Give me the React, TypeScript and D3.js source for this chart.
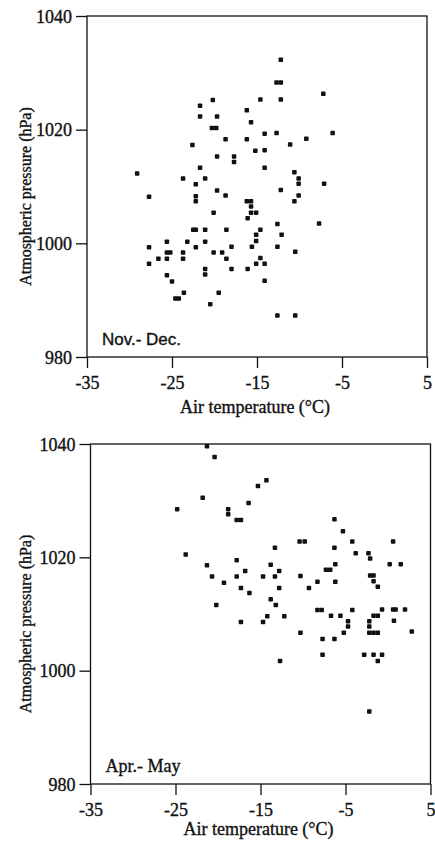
import React, { useEffect, useRef } from "react";
import { select, scaleLinear, axisLeft, axisBottom } from "d3";

// Nov.- Dec. : [air temperature (°C), atmospheric pressure (hPa)]
const novDec: [number, number][] = [
  [-29.1, 1012.3], [-27.7, 1008.2], [-21.7, 1024.2], [-20.2, 1025.2], [-16.2, 1023.4],
  [-21.7, 1022.3], [-19.7, 1022.3], [-15.7, 1021.3], [-20.3, 1020.3], [-19.8, 1020.3],
  [-22.6, 1017.3], [-18.7, 1018.3], [-16.2, 1018.3], [-15.2, 1016.3], [-19.7, 1015.3],
  [-17.7, 1015.3], [-17.7, 1014.3], [-21.7, 1013.3], [-23.7, 1011.4], [-21.1, 1011.4],
  [-22.2, 1010.4], [-22.2, 1008.3], [-19.7, 1009.3], [-18.7, 1008.4], [-12.2, 1032.3],
  [-12.7, 1028.3], [-12.2, 1028.3], [-14.6, 1025.3], [-12.2, 1025.3], [-7.2, 1026.3],
  [-14.1, 1019.3], [-12.7, 1019.4], [-9.2, 1018.4], [-6.1, 1019.4], [-11.1, 1017.4],
  [-14.1, 1016.4], [-14.1, 1013.3], [-10.6, 1012.5], [-10.1, 1011.4], [-10.1, 1010.5],
  [-7.1, 1010.5], [-12.2, 1009.4], [-10.1, 1008.4], [-10.6, 1007.4], [-16.2, 1007.4],
  [-15.7, 1007.4], [-15.7, 1006.5], [-15.7, 1005.4], [-15.1, 1005.4], [-16.1, 1004.4],
  [-12.6, 1003.4], [-7.7, 1003.5], [-14.6, 1002.4], [-15.1, 1001.5], [-15.1, 1000.4],
  [-12.1, 1001.5], [-18.0, 999.4], [-15.6, 999.4], [-12.6, 999.4], [-10.5, 998.5],
  [-14.6, 997.4], [-15.1, 996.4], [-14.1, 996.4], [-18.0, 995.5], [-16.1, 995.5],
  [-14.1, 993.4], [-12.6, 987.3], [-10.5, 987.3], [-22.2, 1007.4], [-20.1, 1005.4],
  [-22.5, 1002.4], [-22.2, 1002.4], [-21.1, 1002.4], [-18.6, 1002.4], [-25.6, 1000.3],
  [-23.2, 1000.3], [-21.1, 1000.3], [-27.7, 999.3], [-22.2, 999.3], [-25.6, 998.4],
  [-25.2, 998.4], [-23.7, 998.4], [-20.1, 998.4], [-19.1, 998.4], [-26.6, 997.3],
  [-25.6, 997.3], [-23.7, 997.3], [-18.6, 997.3], [-27.7, 996.4], [-21.1, 995.5],
  [-21.1, 994.5], [-25.6, 994.4], [-25.0, 993.3], [-23.6, 991.3], [-24.6, 990.3],
  [-24.2, 990.3], [-19.5, 991.3], [-20.5, 989.3],
];

// Apr.- May
const aprMay: [number, number][] = [
  [-21.3, 1039.6], [-20.4, 1037.7], [-15.3, 1032.6], [-14.3, 1033.6], [-21.8, 1030.5],
  [-16.4, 1029.6], [-24.8, 1028.5], [-18.8, 1028.5], [-18.8, 1027.6], [-17.8, 1026.6],
  [-17.3, 1026.6], [-23.8, 1020.5], [-17.8, 1019.5], [-21.3, 1018.6], [-16.8, 1017.6],
  [-20.7, 1016.6], [-17.8, 1016.6], [-19.3, 1015.5], [-17.3, 1014.6], [-16.3, 1013.7],
  [-20.2, 1011.6], [-17.3, 1008.6], [-6.3, 1026.7], [-5.3, 1024.6], [-10.4, 1022.8],
  [-9.8, 1022.8], [-4.2, 1022.8], [0.6, 1022.8], [-13.3, 1021.7], [-6.3, 1021.7],
  [-3.8, 1020.7], [-2.3, 1020.7], [-2.1, 1019.8], [-13.8, 1018.7], [-6.2, 1018.8],
  [0.2, 1018.8], [1.5, 1018.8], [-12.8, 1017.6], [-7.3, 1017.8], [-6.8, 1017.8],
  [-14.7, 1016.6], [-13.3, 1016.6], [-10.3, 1016.7], [-2.1, 1016.8], [-1.7, 1016.8],
  [-1.7, 1015.8], [-8.3, 1015.7], [-6.2, 1015.7], [-1.2, 1014.8], [-12.8, 1014.6],
  [-9.3, 1014.6], [-13.8, 1012.6], [-13.2, 1011.6], [-8.3, 1010.7], [-7.8, 1010.7],
  [-4.2, 1010.7], [-0.7, 1010.8], [0.6, 1010.8], [0.9, 1010.8], [2.0, 1010.8],
  [-6.7, 1009.7], [-5.6, 1009.7], [-1.7, 1009.7], [-1.2, 1009.7], [-14.2, 1009.6],
  [-12.2, 1009.6], [-14.7, 1008.6], [-4.7, 1008.7], [-2.2, 1008.7], [0.7, 1008.8],
  [-4.7, 1007.8], [-2.2, 1007.8], [-10.3, 1006.7], [-5.2, 1006.7], [-2.2, 1006.7],
  [-1.7, 1006.7], [-1.2, 1006.7], [2.8, 1006.9], [-7.7, 1005.6], [-6.3, 1005.6],
  [-12.7, 1001.7], [-7.7, 1002.8], [-2.8, 1002.8], [-1.7, 1002.8], [-0.7, 1002.8],
  [-1.2, 1001.7], [-2.2, 992.8],
];

const tempTicks = [-35, -25, -15, -5, 5];
const pressureTicks = [980, 1000, 1020, 1040];

const SERIF = "'Liberation Serif', 'Times New Roman', serif";
const SANS = "'Liberation Sans', Arial, sans-serif";
const INK = "#111";

type PanelBox = { left: number; right: number; top: number; bottom: number; titleGap: number };

// scanned print looks heavy, so give the type a thin outline
const heavy = (sel: any) => sel.attr("fill", INK).attr("stroke", INK).attr("stroke-width", 0.35);

function drawPanel(
  g: any,
  box: PanelBox,
  points: [number, number][],
  label: string,
  labelFont: string
) {
  const x = scaleLinear().domain([-35, 5]).range([box.left, box.right]);
  const y = scaleLinear().domain([980, 1040]).range([box.bottom, box.top]);

  // frame
  g.append("rect")
    .attr("x", box.left)
    .attr("y", box.top)
    .attr("width", box.right - box.left)
    .attr("height", box.bottom - box.top)
    .attr("fill", "none")
    .attr("stroke", INK)
    .attr("stroke-width", 1.3);

  const yAxis = axisLeft(y)
    .tickValues(pressureTicks)
    .tickFormat((d: any) => String(d))
    .tickSize(11)
    .tickSizeOuter(0)
    .tickPadding(4);
  const ya = g.append("g").attr("transform", `translate(${box.left},0)`).call(yAxis);
  ya.select(".domain").remove();
  ya.selectAll("line").attr("stroke", INK).attr("stroke-width", 1.3);
  ya.selectAll("text")
    .attr("font-family", SERIF)
    .attr("font-size", 18)
    .attr("dy", "0.34em")
    .call(heavy);

  const xAxis = axisBottom(x)
    .tickValues(tempTicks)
    .tickFormat((d: any) => String(d))
    .tickSize(11)
    .tickSizeOuter(0)
    .tickPadding(8);
  const xa = g.append("g").attr("transform", `translate(0,${box.bottom})`).call(xAxis);
  xa.select(".domain").remove();
  xa.selectAll("line").attr("stroke", INK).attr("stroke-width", 1.3);
  xa.selectAll("text").attr("font-family", SERIF).attr("font-size", 18).call(heavy);

  // axis titles
  g.append("text")
    .attr("x", (box.left + box.right) / 2 - 2)
    .attr("y", box.bottom + box.titleGap)
    .attr("text-anchor", "middle")
    .attr("font-family", SERIF)
    .attr("font-size", 18)
    .call(heavy)
    .text("Air temperature (°C)");

  g.append("text")
    .attr("transform", `translate(31,${(box.top + box.bottom) / 2 + 10}) rotate(-90)`)
    .attr("text-anchor", "middle")
    .attr("font-family", SERIF)
    .attr("font-size", 16)
    .call(heavy)
    .text("Atmospheric pressure (hPa)");

  // season label
  g.append("text")
    .attr("x", box.left + 15)
    .attr("y", box.bottom - 12)
    .attr("font-family", labelFont)
    .attr("font-size", labelFont === SANS ? 17 : 18)
    .call(heavy)
    .text(label);

  // points
  const s = 4.5;
  g.append("g")
    .selectAll("rect")
    .data(points)
    .join("rect")
    .attr("x", (d: [number, number]) => x(d[0]) - s / 2)
    .attr("y", (d: [number, number]) => y(d[1]) - s / 2)
    .attr("width", s)
    .attr("height", s)
    .attr("rx", 0.8)
    .attr("fill", INK);
}

export default function App() {
  const svgRef = useRef<SVGSVGElement>(null);

  useEffect(() => {
    const svg = select(svgRef.current);
    svg.selectAll("*").remove();

    drawPanel(
      svg.append("g"),
      { left: 87, right: 427, top: 16, bottom: 357, titleGap: 56 },
      novDec,
      "Nov.- Dec.",
      SANS
    );
    drawPanel(
      svg.append("g"),
      { left: 90.5, right: 430.5, top: 444, bottom: 784, titleGap: 51 },
      aprMay,
      "Apr.- May",
      SERIF
    );
  }, []);

  return (
    <svg
      ref={svgRef}
      width={435}
      height={841}
      style={{ position: "absolute", left: 0, top: 0, background: "#fff" }}
    />
  );
}
